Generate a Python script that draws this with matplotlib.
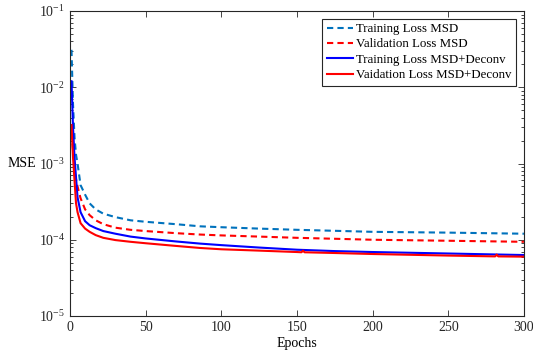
import matplotlib
matplotlib.use("Agg")
import matplotlib.pyplot as plt
from matplotlib.ticker import LogLocator, NullFormatter, FixedLocator

plt.rcParams['font.family'] = ['Liberation Serif', 'DejaVu Serif']
plt.rcParams['mathtext.fontset'] = 'custom'
plt.rcParams['mathtext.rm'] = 'Liberation Serif'
plt.rcParams['mathtext.it'] = 'Liberation Serif:italic'

# Training Loss MSD
ep_tr_msd = [1, 2, 3, 4, 5, 7, 10, 13, 17, 22, 30, 40, 50, 70, 86, 100, 125, 150, 175, 200, 250, 300]
tr_msd = [3.1e-2, 6e-3, 2.2e-3, 1.3e-3, 1.0e-3, 5.2e-4, 3.9e-4, 3.0e-4, 2.5e-4, 2.2e-4, 1.98e-4,
          1.8e-4, 1.72e-4, 1.6e-4, 1.5e-4, 1.46e-4, 1.4e-4, 1.35e-4, 1.31e-4, 1.27e-4, 1.24e-4, 1.2e-4]

# Validation Loss MSD
ep_va_msd = [1, 2, 3, 4, 5, 7, 10, 13, 17, 22, 30, 40, 50, 70, 86, 100, 125, 150, 175, 200, 250, 300]
va_msd = [2.5e-3, 1.5e-3, 9e-4, 6.2e-4, 5e-4, 3.5e-4, 2.5e-4, 2.1e-4, 1.8e-4, 1.6e-4, 1.44e-4,
          1.35e-4, 1.3e-4, 1.22e-4, 1.17e-4, 1.14e-4, 1.1e-4, 1.06e-4, 1.03e-4, 1.0e-4, 9.7e-5, 9.4e-5]

# Training Loss MSD+Deconv
ep_tr_dc = [1, 2, 3, 4, 5, 7, 10, 13, 17, 22, 30, 40, 50, 70, 86, 100, 125, 150, 175, 200, 250, 300]
tr_dc = [1.2e-2, 3e-3, 1.2e-3, 6.5e-4, 3.6e-4, 2.3e-4, 1.75e-4, 1.55e-4, 1.42e-4, 1.3e-4, 1.2e-4,
         1.1e-4, 1.04e-4, 9.5e-5, 8.9e-5, 8.5e-5, 7.9e-5, 7.4e-5, 7.1e-5, 6.9e-5, 6.6e-5, 6.3e-5]

# Validation Loss MSD+Deconv
ep_va_dc = [1, 2, 3, 4, 5, 7, 10, 13, 17, 22, 30, 40, 50, 70, 86, 100, 125, 150, 153, 154, 155,
            175, 200, 250, 281, 282, 283, 300]
va_dc = [3.2e-3, 1.2e-3, 6e-4, 3e-4, 2.3e-4, 1.65e-4, 1.4e-4, 1.27e-4, 1.15e-4, 1.06e-4, 9.9e-5,
         9.4e-5, 9.0e-5, 8.3e-5, 7.8e-5, 7.5e-5, 7.2e-5, 6.9e-5, 6.85e-5, 7.2e-5, 6.85e-5,
         6.7e-5, 6.5e-5, 6.2e-5, 6.05e-5, 6.4e-5, 6.05e-5, 6.0e-5]

labels = ['Training Loss MSD', 'Validation Loss MSD', 'Training Loss MSD+Deconv', 'Vaidation Loss MSD+Deconv']
xticks = [0, 50, 100, 150, 200, 250, 300]

fig = plt.figure(figsize=(5.33, 3.56), dpi=100)
ax = fig.add_axes([0.1313, 0.1124, 0.983 - 0.1313, 0.969 - 0.1124])

ax.plot(ep_tr_msd, tr_msd, color='#0072BD', ls=(0, (3, 2)), lw=1.5, label=labels[0])
ax.plot(ep_va_msd, va_msd, color='#FF0000', ls=(0, (3, 2)), lw=1.5, label=labels[1])
ax.plot(ep_tr_dc, tr_dc, color='#0000FF', lw=1.5, label=labels[2])
ax.plot(ep_va_dc, va_dc, color='#FF0000', lw=1.5, label=labels[3])

ax.set_yscale('log')
ax.set_ylim(1e-5, 1e-1)
ax.set_xlim(0, 300)
ax.xaxis.set_major_locator(FixedLocator(xticks))
ax.yaxis.set_major_locator(LogLocator(base=10, numticks=10))
ax.yaxis.set_minor_locator(LogLocator(base=10, subs=range(2, 10), numticks=20))
ax.yaxis.set_minor_formatter(NullFormatter())

ax.tick_params(which='both', direction='in', top=True, right=True, colors='#262626',
               labelsize=10, labelcolor='#262626', width=0.6)
ax.tick_params(which='major', length=4)
ax.tick_params(which='minor', length=2.5)
for s in ax.spines.values():
    s.set_linewidth(0.8)
    s.set_color('#262626')

ax.set_xlabel('Epochs', fontsize=10, labelpad=2)
ax.set_ylabel('MSE', fontsize=10, rotation=0, labelpad=12, va='center')

leg = ax.legend(loc='upper right', bbox_to_anchor=(0.982, 0.975), fontsize=9.3,
                frameon=True, fancybox=False, edgecolor='#262626', framealpha=1,
                handlelength=2.0, handletextpad=0.25, borderpad=0.35, labelspacing=0.25,
                borderaxespad=0)
leg.get_frame().set_linewidth(0.8)

fig.savefig('out.png', dpi=100)
